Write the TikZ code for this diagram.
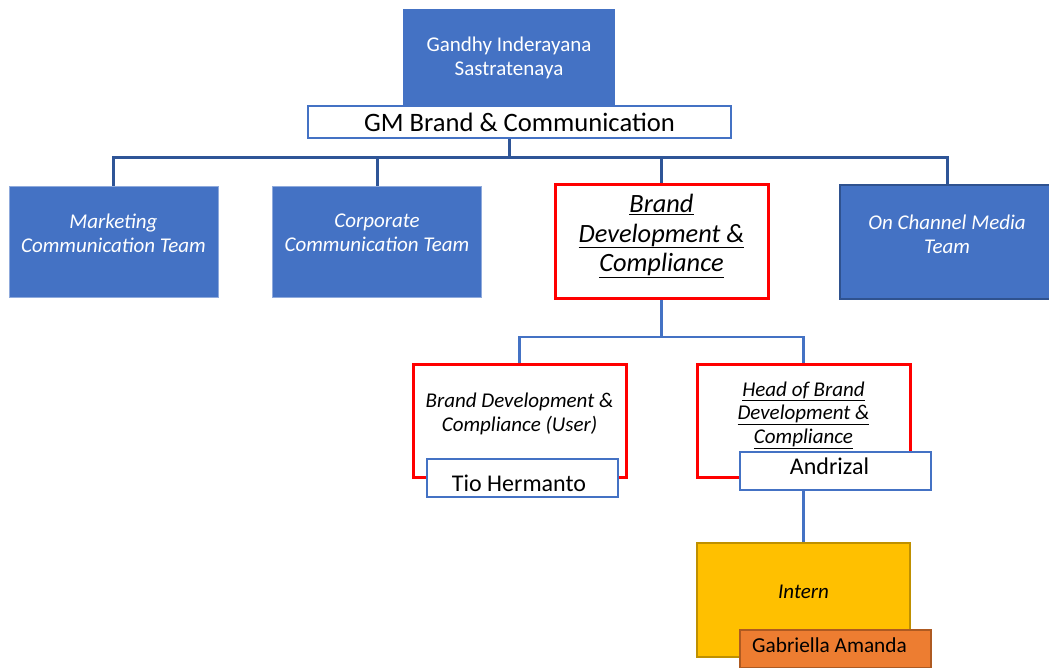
\documentclass[tikz,border=0pt]{standalone}
\usepackage{fontspec}
\setmainfont{Carlito}
\usepackage{tikz}
\usetikzlibrary{positioning}
\definecolor{teamblue}{HTML}{4472C4}
\definecolor{linkblue}{HTML}{2F5597}
\definecolor{darkblue}{HTML}{2F528F}
\definecolor{edgeblue}{HTML}{8FAADC}
\definecolor{internfill}{HTML}{FFC000}
\definecolor{internedge}{HTML}{BF9000}
\definecolor{namefill}{HTML}{ED7D31}
\definecolor{nameedge}{HTML}{AE5A21}

\tikzset{
  team/.style={fill=teamblue, draw=edgeblue, line width=1pt, minimum width=209pt, minimum height=110pt, inner sep=0pt},
  unit/.style={fill=white, draw=red, line width=3pt, minimum width=213pt, minimum height=113pt, inner sep=0pt},
  person/.style={fill=white, draw=teamblue, line width=2.5pt, minimum width=191pt, minimum height=38pt, inner sep=0pt},
  caption/.style={align=center, inner sep=0pt, font=\fontsize{21}{24}\selectfont},
  link/.style={draw=linkblue, line width=3pt},
  sublink/.style={draw=teamblue, line width=2.5pt},
}

\begin{document}
\begin{tikzpicture}[x=1pt, y=-1pt]
  \useasboundingbox (0,0) rectangle (1049,668);

  % top
  \node[fill=teamblue, minimum width=212pt, minimum height=99pt, inner sep=0pt] (gm) at (509,58.5) {};
  \node[caption, text=white] (gmname) at (509,58) {Gandhy Inderayana\\Sastratenaya};
  \node[fill=white, draw=teamblue, line width=2.5pt, minimum width=423pt, minimum height=32pt, inner sep=0pt,
        font=\fontsize{26.6}{30}\selectfont] (gmrole) at (519.5,122) {GM Brand \& Communication};

  % teams
  \coordinate (bus) at (509,158);
  \node[team] (mkt) at (113.5,242) {};
  \node[team] (corp) at (377,242) {};
  \node[unit] (bdc) at (661.5,241.5) {};
  \node[team, draw=darkblue, line width=2.5pt, minimum width=214pt, minimum height=114pt] (ocm) at (947,242) {};
  \draw[link] (gmrole.south -| bus) -- (bus);
  \foreach \t in {mkt,corp,bdc,ocm}
    \draw[link] (bus) -| (\t.north);

  \node[caption, text=white, font=\fontsize{21}{24}\selectfont\itshape] (mkttext) at (113.5,233) {Marketing\\Communication Team};
  \node[caption, text=white, font=\fontsize{21}{24}\selectfont\itshape] (corptext) at (377,233) {Corporate\\Communication Team};
  \node[caption, font=\fontsize{26.4}{29.5}\selectfont\itshape] (bdctext) at (661.5,236)
    {\underline{Brand}\\\underline{Development \&}\\\underline{Compliance}};
  \node[caption, text=white, font=\fontsize{21}{24}\selectfont\itshape] (ocmtext) at (947,234) {On Channel Media\\Team};

  % brand development & compliance
  \coordinate (split) at (661.5,337);
  \node[unit] (user) at (519.5,420.5) {};
  \node[unit] (head) at (803.5,420.5) {};
  \draw[sublink] (bdc.south) -- (split);
  \draw[sublink] (split) -| (user.north);
  \draw[sublink] (split) -| (head.north);
  \node[caption, font=\fontsize{21}{24}\selectfont\itshape] (usertext) at (519.5,414) {Brand Development \&\\Compliance (User)};
  \node[caption, font=\fontsize{21}{23.5}\selectfont\itshape] (headtext) at (803.5,415)
    {\underline{Head of Brand}\\\underline{Development \&}\\\underline{Compliance}};
  \node[person] (tio) at (522.5,478) {};
  \node[caption, font=\fontsize{24}{28}\selectfont] (tiotext) at (519,483) {Tio Hermanto};
  \node[person] (andrizal) at (835.5,471) {};
  \node[caption, font=\fontsize{24}{28}\selectfont] (andrizaltext) at (829.5,466) {Andrizal};

  % intern
  \node[fill=internfill, draw=internedge, line width=2pt, minimum width=213pt, minimum height=114pt, inner sep=0pt] (intern) at (803.5,600) {};
  \draw[sublink] (andrizal.south -| intern) -- (intern.north);
  \node[caption, font=\fontsize{21}{24}\selectfont\itshape] (interntext) at (803.5,592) {Intern};
  \node[fill=namefill, draw=nameedge, line width=2pt, minimum width=191pt, minimum height=38pt, inner sep=0pt] (gabriella) at (835.5,649) {};
  \node[caption, font=\fontsize{21.3}{24}\selectfont] (gabtext) at (829.5,645) {Gabriella Amanda};
\end{tikzpicture}
\end{document}
